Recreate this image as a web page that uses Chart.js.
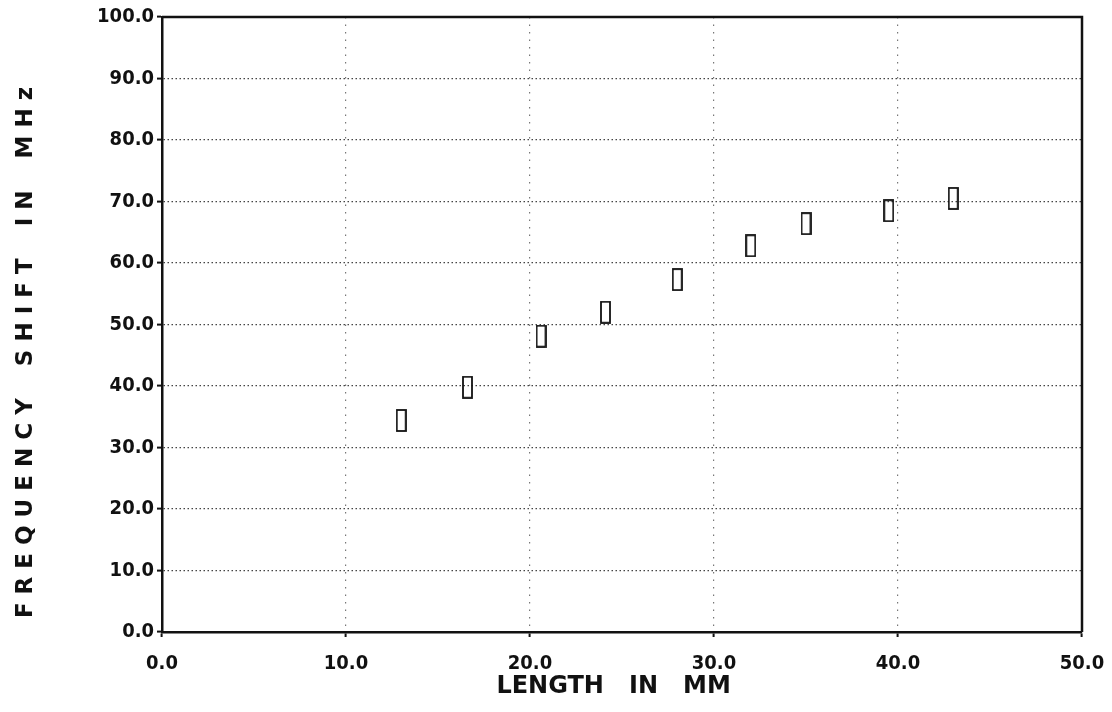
<!DOCTYPE html>
<html>
<head>
<meta charset="utf-8">
<script src="https://cdn.jsdelivr.net/npm/chart.js@4"></script>
<style>
  html, body { margin: 0; padding: 0; background: #fff; }
  #wrap { width: 1112px; height: 712px; }
</style>
</head>
<body>
<div id="wrap"><canvas id="shiftChart" width="1112" height="712"></canvas></div>
<script>
// Frequency shift vs length
const lengths = [13.0, 16.6, 20.6, 24.1, 28.0, 32.0, 35.0, 39.5, 43.0];
const shifts = [34.4, 39.8, 48.1, 52.0, 57.3, 62.8, 66.4, 68.5, 70.5];
const xTicks = [0, 10, 20, 30, 40, 50];
const yTicks = [0, 10, 20, 30, 40, 50, 60, 70, 80, 90, 100];

const tickFont = { family: "'DejaVu Sans Condensed', sans-serif", size: 20, weight: 'bold' };
const titleFont = { family: "'DejaVu Sans', sans-serif", size: 24, weight: 'bold' };

// tall open rectangle marker
const marker = document.createElement('canvas');
marker.width = 11;
marker.height = 23;
const mctx = marker.getContext('2d');
mctx.strokeStyle = '#111';
mctx.lineWidth = 1.8;
mctx.strokeRect(1, 1, 9, 21);

// closes the frame on top and right
const frame = {
    id: 'frame',
    afterDatasetsDraw(chart) {
        const { ctx, chartArea: a } = chart;
        ctx.save();
        ctx.strokeStyle = '#111';
        ctx.lineWidth = 2.5;
        ctx.beginPath();
        ctx.moveTo(a.left, a.top);
        ctx.lineTo(a.right, a.top);
        ctx.lineTo(a.right, a.bottom);
        ctx.stroke();
        ctx.restore();
    }
};

const ctx = document.getElementById('shiftChart').getContext('2d');
new Chart(ctx, {
    type: 'scatter',
    data: {
        datasets: [{
            data: lengths.map((x, i) => ({ x: x, y: shifts[i] })),
            pointStyle: marker,
            pointRadius: 10,
            showLine: false
        }]
    },
    options: {
        responsive: false,
        animation: false,
        layout: { padding: { top: 17, right: 30, left: 0, bottom: 0 } },
        plugins: { legend: { display: false }, tooltip: { enabled: false } },
        scales: {
            x: {
                type: 'linear',
                min: 0,
                max: 50,
                afterBuildTicks: s => { s.ticks = xTicks.map(v => ({ value: v })); },
                afterFit: s => { s.height = 80; s.paddingLeft = 0; s.paddingRight = 0; },
                ticks: {
                    color: '#111',
                    font: tickFont,
                    padding: 15,
                    maxRotation: 0,
                    callback: v => v.toFixed(1)
                },
                grid: { color: '#777', lineWidth: 1.2, tickLength: 5, tickColor: '#111', tickWidth: 2 },
                border: { color: '#111', width: 2.5, dash: [1.5, 6] },
                title: {
                    display: true,
                    text: 'LENGTH   IN   MM  ',
                    color: '#111',
                    font: titleFont,
                    padding: { top: 0, bottom: 11 }
                }
            },
            y: {
                type: 'linear',
                min: 0,
                max: 100,
                afterBuildTicks: s => { s.ticks = yTicks.map(v => ({ value: v })); },
                afterFit: s => { s.width = 162; },
                ticks: {
                    color: '#111',
                    font: tickFont,
                    padding: 3,
                    callback: v => v.toFixed(1)
                },
                grid: { color: '#444', lineWidth: 1.2, tickLength: 5, tickColor: '#111', tickWidth: 2 },
                border: { color: '#111', width: 2.5, dash: [1.5, 2.5] },
                title: {
                    display: true,
                    text: 'F R E Q U E N C Y    S H I F T    I N    M H z       ',
                    color: '#111',
                    font: { family: "'DejaVu Sans', sans-serif", size: 23, weight: 'bold' },
                    padding: { top: 12, bottom: 0 }
                }
            }
        }
    },
    plugins: [frame]
});
</script>
</body>
</html>
